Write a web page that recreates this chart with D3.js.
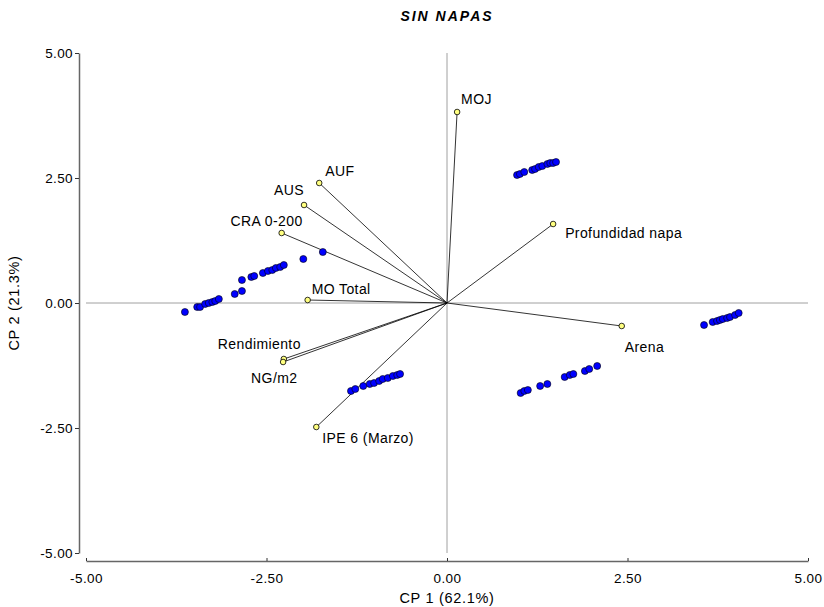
<!DOCTYPE html>
<html><head><meta charset="utf-8">
<script src="https://cdn.jsdelivr.net/npm/d3@7"></script>
<style>body{margin:0;background:#fff}svg{display:block;font-family:"Liberation Sans",Arial,sans-serif}</style>
</head><body><svg id="c" width="824" height="607"></svg>
<script>
const title = "SIN NAPAS";
const xLabel = "CP 1 (62.1%)";
const yLabel = "CP 2 (21.3%)";
const tickValues = [-5, -2.5, 0, 2.5, 5];

const varNames = ["MOJ","AUF","AUS","CRA 0-200","Profundidad napa","MO Total","Arena","Rendimiento","NG/m2","IPE 6 (Marzo)"];
const varX = [0.14,-1.77,-1.98,-2.29,1.47,-1.93,2.42,-2.26,-2.27,-1.81];
const varY = [3.82,2.40,1.96,1.40,1.58,0.06,-0.46,-1.12,-1.18,-2.48];

const obsX = [-3.63,-3.46,-3.42,-3.35,-3.30,-3.25,-3.21,-3.16,-2.94,-2.84,-2.84,-2.71,-2.67,-2.55,-2.48,-2.42,-2.37,-2.31,-2.26,-1.99,-1.72,
  -1.33,-1.27,-1.16,-1.07,-1.01,-0.94,-0.89,-0.82,-0.75,-0.69,-0.65,
  0.97,1.01,1.07,1.18,1.22,1.27,1.32,1.39,1.43,1.47,1.51,
  1.02,1.07,1.12,1.29,1.39,1.63,1.70,1.75,1.91,1.97,2.08,
  3.56,3.68,3.74,3.78,3.82,3.88,3.92,3.99,4.04];
const obsY = [-0.18,-0.08,-0.08,-0.02,0.00,0.02,0.04,0.08,0.18,0.24,0.46,0.52,0.54,0.60,0.64,0.66,0.70,0.72,0.76,0.88,1.02,
  -1.76,-1.72,-1.66,-1.62,-1.60,-1.56,-1.52,-1.50,-1.46,-1.44,-1.42,
  2.56,2.58,2.62,2.66,2.68,2.72,2.74,2.78,2.80,2.80,2.82,
  -1.80,-1.76,-1.74,-1.66,-1.62,-1.48,-1.44,-1.42,-1.36,-1.32,-1.26,
  -0.44,-0.38,-0.36,-0.34,-0.32,-0.30,-0.28,-0.24,-0.20];

// label placement (pixels relative to point) kept separate from data
const labelDx = [4,6,0,21,12,4,3,17,-32,6];
const labelDy = [-8,-7,-10,-7,14,-6,26,-10,21,16];
const labelAnchor = ["start","start","end","end","start","start","start","end","start","start"];

const svg = d3.select("#c");
const x = d3.scaleLinear().domain([-5,5]).range([86,808]);
const y = d3.scaleLinear().domain([-5,5]).range([553,53]);
const fmt = v => d3.format(".2f")(v).replace("\u2212","-");

// reference lines at 0
svg.append("line").attr("x1",x(-5)).attr("x2",x(5)).attr("y1",y(0)).attr("y2",y(0)).attr("stroke","#a0a0a0").attr("stroke-width",1);
svg.append("line").attr("x1",x(0)).attr("x2",x(0)).attr("y1",y(5)).attr("y2",y(-5)).attr("stroke","#a0a0a0").attr("stroke-width",1);

// axes
const xAxis = d3.axisTop(x).tickValues(tickValues).tickFormat(fmt).tickSize(3).tickSizeOuter(0);
const gx = svg.append("g").attr("transform","translate(0,561)").call(xAxis);
gx.selectAll("text").remove();
gx.selectAll(".tick").append("text").attr("y",22).attr("text-anchor","middle").attr("fill","#000")
  .style("font-size","13.5px").style("letter-spacing","0.4px").text(d=>fmt(d));
const yAxis = d3.axisLeft(y).tickValues(tickValues).tickFormat(fmt).tickSize(4).tickSizeOuter(0);
const gy = svg.append("g").attr("transform","translate(79,0)").call(yAxis);
gy.selectAll("text").attr("x",-6).attr("fill","#000").style("font-size","13.5px").style("letter-spacing","0.4px");
[gx,gy].forEach(g=>{g.select(".domain").attr("stroke","#666").attr("stroke-width",1.5);g.selectAll(".tick line").attr("stroke","#333");g.attr("font-family",null);});

// vectors
const vars = varNames.map((n,i)=>({n,x:varX[i],y:varY[i],dx:labelDx[i],dy:labelDy[i],a:labelAnchor[i]}));
svg.append("g").selectAll("line").data(vars).join("line")
  .attr("x1",x(0)).attr("y1",y(0)).attr("x2",d=>x(d.x)).attr("y2",d=>y(d.y)).attr("stroke","#000").attr("stroke-width",0.8);

// observations
const obs = obsX.map((v,i)=>({x:v,y:obsY[i]}));
svg.append("g").selectAll("circle").data(obs).join("circle")
  .attr("cx",d=>x(d.x)).attr("cy",d=>y(d.y)).attr("r",3.5).attr("fill","#0000ff").attr("stroke","#000").attr("stroke-width",0.6);

// variable points
svg.append("g").selectAll("circle").data(vars).join("circle")
  .attr("cx",d=>x(d.x)).attr("cy",d=>y(d.y)).attr("r",2.8).attr("fill","#ffff80").attr("stroke","#000").attr("stroke-width",0.8);
svg.append("g").selectAll("text").data(vars).join("text")
  .attr("x",d=>x(d.x)+d.dx).attr("y",d=>y(d.y)+d.dy).attr("text-anchor",d=>d.a)
  .style("font-size","14px").style("letter-spacing","0.4px").attr("fill","#000").text(d=>d.n);

// titles
svg.append("text").attr("x",447).attr("y",21).attr("text-anchor","middle").style("font-size","14px").style("letter-spacing","2px").style("font-weight","bold").style("font-style","italic").text(title);
svg.append("text").attr("x",447).attr("y",603).attr("text-anchor","middle").style("font-size","14.5px").style("letter-spacing","0.7px").text(xLabel);
svg.append("text").attr("transform","translate(19,303) rotate(-90)").attr("text-anchor","middle").style("font-size","14.5px").style("letter-spacing","0.7px").text(yLabel);
</script></body></html>
